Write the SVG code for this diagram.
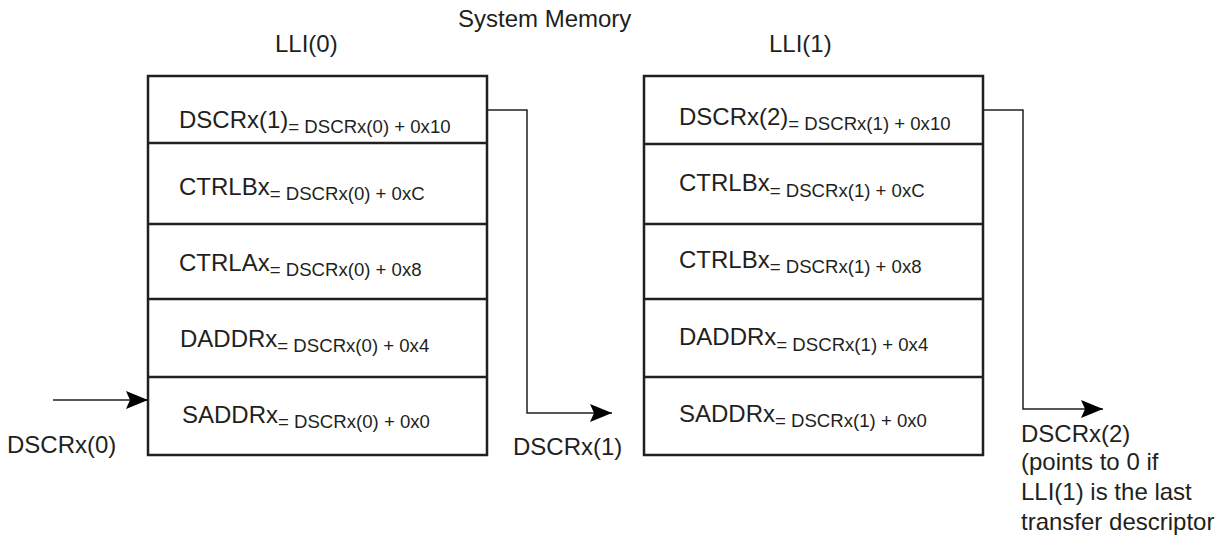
<svg xmlns="http://www.w3.org/2000/svg" width="1225" height="546" viewBox="0 0 1225 546">
<style>
text{font-family:"Liberation Sans",Arial,sans-serif;fill:#231f20;}
.lbl{font-size:24px;}
.sub{font-size:18.6px;}
.box{fill:#fff;stroke:#231f20;stroke-width:2.5;}
.div{stroke:#231f20;stroke-width:2.5;}
.con{fill:none;stroke:#231f20;stroke-width:1.5;}
</style>
<defs>
<marker id="ah" markerUnits="userSpaceOnUse" markerWidth="24" markerHeight="20" refX="22" refY="9" orient="auto">
<path d="M0,0 L22,9 L0,18 L4,9 Z" fill="#000"/>
</marker>
</defs>
<text class="lbl" x="458" y="27">System Memory</text>
<text class="lbl" x="275" y="52">LLI(0)</text>
<text class="lbl" x="769" y="52">LLI(1)</text>
<g id="lli0">
<rect class="box" x="148" y="76" width="339" height="379"/>
<line class="div" x1="148" y1="143" x2="487" y2="143"/>
<line class="div" x1="148" y1="224" x2="487" y2="224"/>
<line class="div" x1="148" y1="299" x2="487" y2="299"/>
<line class="div" x1="148" y1="377" x2="487" y2="377"/>
<text class="lbl" x="179" y="128">DSCRx(1)<tspan class="sub" dy="5">= DSCRx(0) + 0x10</tspan></text>
<text class="lbl" x="179" y="195">CTRLBx<tspan class="sub" dy="5">= DSCRx(0) + 0xC</tspan></text>
<text class="lbl" x="179" y="271">CTRLAx<tspan class="sub" dy="5">= DSCRx(0) + 0x8</tspan></text>
<text class="lbl" x="180" y="347">DADDRx<tspan class="sub" dy="5">= DSCRx(0) + 0x4</tspan></text>
<text class="lbl" x="182" y="423">SADDRx<tspan class="sub" dy="5">= DSCRx(0) + 0x0</tspan></text>
</g>
<g id="lli1">
<rect class="box" x="644" y="76" width="339" height="379"/>
<line class="div" x1="644" y1="144" x2="983" y2="144"/>
<line class="div" x1="644" y1="224" x2="983" y2="224"/>
<line class="div" x1="644" y1="299" x2="983" y2="299"/>
<line class="div" x1="644" y1="377" x2="983" y2="377"/>
<text class="lbl" x="679" y="125">DSCRx(2)<tspan class="sub" dy="5">= DSCRx(1) + 0x10</tspan></text>
<text class="lbl" x="679" y="191">CTRLBx<tspan class="sub" dy="6">= DSCRx(1) + 0xC</tspan></text>
<text class="lbl" x="679" y="268">CTRLBx<tspan class="sub" dy="5">= DSCRx(1) + 0x8</tspan></text>
<text class="lbl" x="679" y="345">DADDRx<tspan class="sub" dy="6">= DSCRx(1) + 0x4</tspan></text>
<text class="lbl" x="679" y="422">SADDRx<tspan class="sub" dy="5">= DSCRx(1) + 0x0</tspan></text>
</g>
<g id="connectors">
<line class="con" x1="53" y1="400" x2="148" y2="400" marker-end="url(#ah)"/>
<polyline class="con" points="487,110 527,110 527,413 612,413" marker-end="url(#ah)"/>
<polyline class="con" points="983,110 1023,110 1023,409 1103,409" marker-end="url(#ah)"/>
</g>
<g id="labels">
<text class="lbl" x="7" y="453">DSCRx(0)</text>
<text class="lbl" x="513" y="455">DSCRx(1)</text>
<text class="lbl" x="1021" y="442">DSCRx(2)</text>
<text class="lbl" x="1021" y="470">(points to 0 if</text>
<text class="lbl" x="1021" y="500">LLI(1) is the last</text>
<text class="lbl" x="1021" y="530">transfer descriptor</text>
</g>
</svg>
